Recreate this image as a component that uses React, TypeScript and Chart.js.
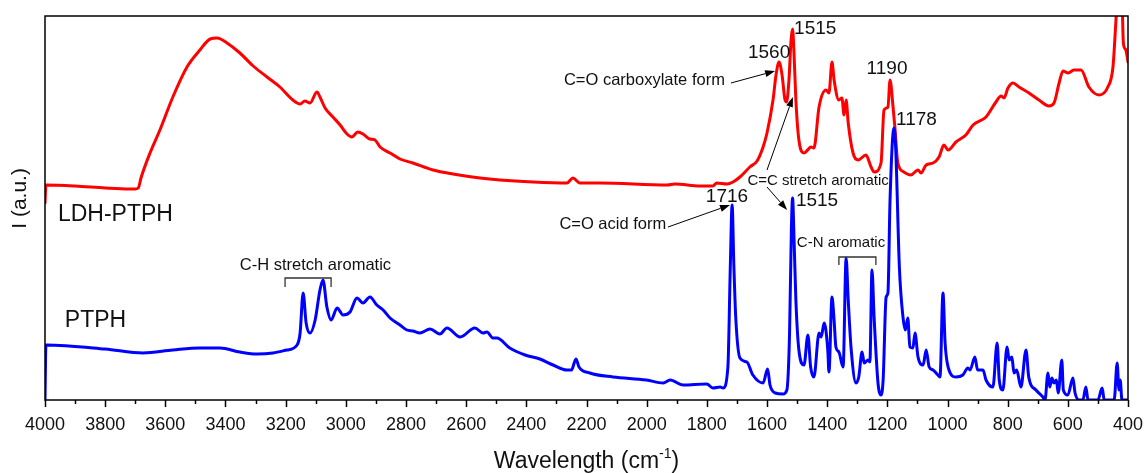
import React, { useEffect, useRef } from "react";
import { Chart, registerables } from "chart.js";

Chart.register(...registerables);

const FONT = '"Liberation Sans", Arial, Helvetica, sans-serif';

// LDH-PTPH spectrum (wavenumber, intensity in arbitrary units)
const ldhWn = [4000, 3997, 3900, 3800, 3720, 3700, 3690, 3680, 3651, 3618, 3575, 3528, 3485, 3451, 3428, 3395, 3352, 3308, 3262, 3219, 3176, 3152, 3136, 3119, 3096, 3086, 3069, 3043, 3019, 2996, 2980, 2960, 2943, 2920, 2903, 2886, 2853, 2820, 2777, 2710, 2644, 2554, 2488, 2378, 2265, 2245, 2222, 2155, 1932, 1906, 1823, 1780, 1767, 1733, 1713, 1690, 1657, 1633, 1613, 1600, 1580, 1570, 1560, 1550, 1540, 1535, 1527, 1520, 1515, 1510, 1504, 1494, 1477, 1465, 1454, 1444, 1427, 1404, 1394, 1384, 1377, 1361, 1351, 1344, 1337, 1330, 1314, 1297, 1271, 1254, 1244, 1221, 1211, 1198, 1191, 1181, 1175, 1165, 1145, 1122, 1098, 1088, 1071, 1048, 1028, 1012, 998, 972, 939, 915, 872, 839, 822, 812, 799, 782, 762, 729, 696, 663, 646, 629, 616, 599, 580, 556, 530, 496, 467, 450, 440, 436, 420, 416, 413, 407, 400];
const ldhI = [197, 215, 214, 212, 211, 211, 212, 223, 247, 270, 303, 333, 350, 361, 362, 357, 347, 334, 323, 313, 300, 296, 299, 297, 308, 303, 292, 283, 275, 266, 263, 268, 266, 261, 260, 253, 247, 241, 237, 230, 226, 222, 220, 218, 217, 222, 217, 217, 215, 216, 214, 214, 217, 216, 218, 223, 233, 239, 253, 267, 300, 325, 338, 325, 300, 298, 320, 360, 371, 345, 300, 260, 247, 250, 253, 252, 293, 310, 307, 338, 320, 300, 302, 285, 300, 277, 247, 240, 245, 233, 228, 237, 290, 293, 320, 293, 273, 237, 228, 225, 230, 227, 235, 237, 243, 255, 250, 258, 265, 275, 283, 298, 304, 302, 312, 317, 313, 307, 300, 294, 297, 317, 329, 327, 330, 330, 313, 305, 313, 333, 380, 400, 400, 360, 353, 350, 338];

// PTPH spectrum
const ptphWn = [4000, 3997, 3800, 3674, 3575, 3485, 3418, 3352, 3295, 3242, 3196, 3162, 3152, 3142, 3132, 3119, 3102, 3086, 3076, 3063, 3049, 3029, 3009, 2986, 2963, 2943, 2920, 2897, 2876, 2853, 2820, 2797, 2777, 2754, 2720, 2687, 2664, 2620, 2571, 2544, 2531, 2511, 2498, 2455, 2404, 2355, 2311, 2265, 2250, 2235, 2225, 2189, 2112, 2001, 1945, 1922, 1879, 1800, 1780, 1756, 1746, 1730, 1722, 1716, 1710, 1704, 1690, 1667, 1647, 1613, 1598, 1590, 1573, 1547, 1534, 1525, 1519, 1515, 1510, 1504, 1494, 1477, 1464, 1455, 1444, 1427, 1420, 1410, 1398, 1394, 1384, 1377, 1371, 1361, 1347, 1337, 1330, 1320, 1304, 1295, 1284, 1277, 1264, 1258, 1251, 1244, 1231, 1221, 1214, 1204, 1198, 1191, 1178, 1172, 1160, 1148, 1140, 1132, 1125, 1115, 1108, 1098, 1081, 1071, 1061, 1048, 1032, 1025, 1015, 1008, 998, 972, 949, 932, 925, 909, 900, 882, 872, 849, 835, 828, 816, 802, 795, 786, 779, 770, 756, 739, 730, 706, 683, 676, 666, 660, 653, 646, 638, 632, 620, 615, 600, 583, 576, 562, 550, 540, 533, 500, 486, 479, 446, 436, 430, 426, 420, 400];
const ptphI = [0, 55, 51, 47, 50, 52, 52, 48, 46, 47, 50, 55, 67, 107, 77, 67, 80, 110, 120, 93, 80, 92, 85, 88, 102, 97, 103, 95, 90, 82, 75, 70, 69, 67, 71, 66, 72, 63, 72, 67, 68, 62, 62, 52, 45, 41, 35, 30, 30, 41, 33, 27, 23, 20, 17, 20, 15, 16, 12, 13, 12, 33, 133, 195, 133, 83, 42, 38, 25, 17, 31, 15, 7, 6, 10, 67, 170, 202, 160, 100, 50, 35, 65, 33, 23, 67, 63, 77, 50, 28, 103, 80, 53, 48, 33, 142, 100, 50, 17, 23, 48, 37, 40, 38, 130, 83, 17, 5, 20, 103, 107, 200, 272, 250, 133, 83, 70, 82, 53, 52, 67, 43, 35, 50, 33, 30, 25, 23, 107, 57, 33, 23, 25, 32, 30, 43, 30, 30, 20, 13, 57, 20, 10, 53, 40, 43, 27, 30, 13, 50, 23, 10, 3, 0, 27, 13, 22, 17, 20, 7, 40, 10, 5, 22, 7, 0, 0, 13, 0, 0, 12, 0, 0, 37, 10, 20, 0, 0];

const seriesNames = ["PTPH", "LDH-PTPH"];
const xTickStep = 200;
const xMin = 400;
const xMax = 4000;

type Txt = { t: string; wn: number; v: number; size: number; align: CanvasTextAlign };
const labels: Txt[] = [
  { t: "LDH-PTPH", wn: 3957, v: 185, size: 23, align: "left" },
  { t: "PTPH", wn: 3934, v: 79.5, size: 23, align: "left" },
  { t: "C-H stretch aromatic", wn: 3101, v: 134.5, size: 16.5, align: "center" },
  { t: "C=O carboxylate form", wn: 1740, v: 319.5, size: 16.5, align: "right" },
  { t: "1560", wn: 1593, v: 347, size: 19, align: "center" },
  { t: "1515", wn: 1510, v: 371, size: 19, align: "left" },
  { t: "1190", wn: 1201, v: 331, size: 19, align: "center" },
  { t: "1178", wn: 1171, v: 280, size: 19, align: "left" },
  { t: "C=C stretch aromatic", wn: 1430, v: 219, size: 15, align: "center" },
  { t: "1515", wn: 1504, v: 199, size: 19, align: "left" },
  { t: "1716", wn: 1733, v: 203, size: 19, align: "center" },
  { t: "C=O acid form", wn: 1935, v: 176, size: 16.5, align: "right" },
  { t: "C-N aromatic", wn: 1354, v: 157, size: 15, align: "center" },
];
const arrows = [
  [1720, 317, 1573, 329],
  [1600, 230, 1514, 303],
  [1600, 213, 1533, 190],
  [1929, 173, 1723, 195],
];
const brackets = [
  [3202, 3049, 122, 113],
  [1361, 1238, 143, 135],
];

const overlay = {
  id: "overlay",
  afterDatasetsDraw(chart: any) {
    const { ctx, chartArea: a, scales } = chart;
    const xs = scales.x;
    const ys = scales.y;
    const X = (w: number) => xs.getPixelForValue(w);
    const Y = (v: number) => ys.getPixelForValue(v);
    ctx.save();
    // frame
    ctx.strokeStyle = "#000";
    ctx.lineWidth = 1.5;
    ctx.strokeRect(a.left, a.top, a.right - a.left, a.bottom - a.top);
    // ticks
    for (let w = xMin; w <= xMax; w += xTickStep / 2) {
      const px = Math.round(X(w)) + 0.5;
      const major = w % xTickStep === 0;
      ctx.beginPath();
      ctx.moveTo(px, a.bottom);
      ctx.lineTo(px, a.bottom + (major ? 7 : 4));
      ctx.stroke();
    }
    // labels
    ctx.fillStyle = "#111";
    ctx.textBaseline = "middle";
    for (const l of labels) {
      ctx.font = `${l.size}px ${FONT}`;
      ctx.textAlign = l.align;
      ctx.fillText(l.t, X(l.wn), Y(l.v));
    }
    // arrows
    ctx.strokeStyle = "#000";
    ctx.fillStyle = "#000";
    ctx.lineWidth = 1;
    for (const [w1, v1, w2, v2] of arrows) {
      const x1 = X(w1), y1 = Y(v1), x2 = X(w2), y2 = Y(v2);
      const ang = Math.atan2(y2 - y1, x2 - x1);
      const L = 10, H = 3.5;
      const bx = x2 - L * Math.cos(ang), by = y2 - L * Math.sin(ang);
      ctx.beginPath();
      ctx.moveTo(x1, y1);
      ctx.lineTo(bx, by);
      ctx.stroke();
      ctx.beginPath();
      ctx.moveTo(x2, y2);
      ctx.lineTo(bx + H * Math.sin(ang), by - H * Math.cos(ang));
      ctx.lineTo(bx - H * Math.sin(ang), by + H * Math.cos(ang));
      ctx.closePath();
      ctx.fill();
    }
    // brackets
    ctx.strokeStyle = "#333";
    ctx.lineWidth = 1.3;
    for (const [w1, w2, vt, vb] of brackets) {
      ctx.beginPath();
      ctx.moveTo(X(w1), Y(vb));
      ctx.lineTo(X(w1), Y(vt));
      ctx.lineTo(X(w2), Y(vt));
      ctx.lineTo(X(w2), Y(vb));
      ctx.stroke();
    }
    // x title
    ctx.fillStyle = "#111";
    ctx.textBaseline = "alphabetic";
    ctx.textAlign = "left";
    const main = "Wavelength (cm";
    const sup = "-1";
    const close = ")";
    ctx.font = `23px ${FONT}`;
    const w1 = ctx.measureText(main).width;
    const w3 = ctx.measureText(close).width;
    ctx.font = `14px ${FONT}`;
    const w2 = ctx.measureText(sup).width;
    const total = w1 + w2 + w3;
    const sx = (a.left + a.right) / 2 - total / 2;
    const base = a.bottom + 68;
    ctx.font = `23px ${FONT}`;
    ctx.fillText(main, sx, base);
    ctx.font = `14px ${FONT}`;
    ctx.fillText(sup, sx + w1, base - 10);
    ctx.font = `23px ${FONT}`;
    ctx.fillText(close, sx + w1 + w2, base);
    // y title
    ctx.save();
    ctx.translate(20, a.top + (a.bottom - a.top) * 0.475);
    ctx.rotate(-Math.PI / 2);
    ctx.textAlign = "center";
    ctx.textBaseline = "middle";
    ctx.font = `21px ${FONT}`;
    ctx.fillText("I (a.u.)", 0, 0);
    ctx.restore();
    ctx.restore();
  },
};

export default function App() {
  const ref = useRef<HTMLCanvasElement | null>(null);
  useEffect(() => {
    if (!ref.current) return;
    const toPts = (xs: number[], ys: number[]) => xs.map((x, i) => ({ x, y: ys[i] }));
    const chart = new Chart(ref.current, {
      type: "line",
      data: {
        datasets: [
          {
            label: seriesNames[0],
            data: toPts(ptphWn, ptphI),
            borderColor: "#0000ff",
            borderWidth: 3,
            pointRadius: 0,
            cubicInterpolationMode: "monotone",
            fill: false,
          },
          {
            label: seriesNames[1],
            data: toPts(ldhWn, ldhI),
            borderColor: "#ff0000",
            borderWidth: 3,
            pointRadius: 0,
            cubicInterpolationMode: "monotone",
            fill: false,
          },
        ],
      },
      options: {
        animation: false,
        responsive: true,
        maintainAspectRatio: false,
        layout: { padding: { left: 45, right: 18, top: 16, bottom: 0 } },
        plugins: { legend: { display: false }, tooltip: { enabled: false } },
        elements: { line: { borderJoinStyle: "round", borderCapStyle: "round" } },
        scales: {
          x: {
            type: "linear",
            reverse: true,
            min: xMin,
            max: xMax,
            grid: { display: false, drawTicks: false },
            border: { display: false },
            ticks: {
              stepSize: xTickStep,
              autoSkip: false,
              maxRotation: 0,
              padding: 14,
              color: "#111",
              font: { family: FONT, size: 18 },
              callback: (v: any) => String(v),
            },
            afterFit: (s: any) => {
              s.height = 73;
              s.paddingLeft = 0;
              s.paddingRight = 0;
            },
          },
          y: {
            type: "linear",
            display: false,
            min: 0,
            max: 384,
          },
        },
      },
      plugins: [overlay],
    });
    return () => chart.destroy();
  }, []);
  return (
    <div style={{ position: "fixed", left: 0, top: 0, width: 1146, height: 473, background: "#fff" }}>
      <canvas ref={ref} />
    </div>
  );
}
